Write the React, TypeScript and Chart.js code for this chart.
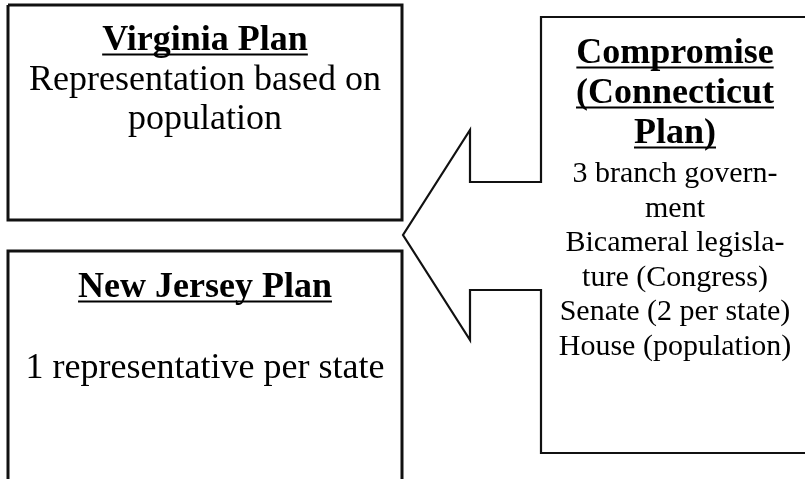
import React, { useEffect, useRef } from "react";
import { Chart, registerables } from "chart.js";

Chart.register(...registerables);

// Diagram outlines in page coordinates (x: 0..805, y: 0..479, top-down)
const virginiaBoxX = [8, 402, 402, 8, 8];
const virginiaBoxY = [5, 5, 220, 220, 5];
const jerseyBoxX = [8, 402, 402, 8, 8];
const jerseyBoxY = [490, 490, 251, 251, 490];
const calloutX = [830, 541, 541, 470, 470, 403, 470, 470, 541, 541, 830];
const calloutY = [17, 17, 182, 182, 130, 235, 340, 290, 290, 453, 453];

// Text blocks
const virginiaTitle = "Virginia Plan";
const virginiaLines = ["Representation based on", "population"];
const jerseyTitle = "New Jersey Plan";
const jerseyLines = ["1 representative per state"];
const compromiseTitle = ["Compromise", "(Connecticut", "Plan)"];
const compromiseLines = [
  "3 branch govern-",
  "ment",
  "Bicameral legisla-",
  "ture (Congress)",
  "Senate (2 per state)",
  "House (population)",
];

type TextItem = { text: string; x: number; y: number; bold: boolean; size: number };

const textItems: TextItem[] = [
  { text: virginiaTitle, x: 205, y: 50, bold: true, size: 36 },
  { text: virginiaLines[0], x: 205, y: 90, bold: false, size: 36 },
  { text: virginiaLines[1], x: 205, y: 129, bold: false, size: 36 },
  { text: jerseyTitle, x: 205, y: 297, bold: true, size: 36 },
  { text: jerseyLines[0], x: 205, y: 378, bold: false, size: 36 },
  ...compromiseTitle.map((t, i) => ({ text: t, x: 675, y: 63 + i * 40, bold: true, size: 36 })),
  ...compromiseLines.map((t, i) => ({ text: t, x: 675, y: 182 + i * 34.6, bold: false, size: 30 })),
];

const toPoints = (xs: number[], ys: number[]) => xs.map((x, i) => ({ x, y: ys[i] }));

const textPlugin = {
  id: "diagramText",
  afterDatasetsDraw(chart: any) {
    const { ctx, scales } = chart;
    const xs = scales.x;
    const ys = scales.y;
    ctx.save();
    ctx.fillStyle = "#000";
    ctx.strokeStyle = "#000";
    ctx.textAlign = "center";
    ctx.textBaseline = "alphabetic";
    for (const item of textItems) {
      ctx.font = `${item.bold ? "bold " : ""}${item.size}px "Liberation Serif", "Times New Roman", serif`;
      const px = xs.getPixelForValue(item.x);
      const py = ys.getPixelForValue(item.y);
      ctx.fillText(item.text, px, py);
      if (item.bold) {
        const w = ctx.measureText(item.text).width;
        ctx.lineWidth = 2.2;
        ctx.beginPath();
        ctx.moveTo(px - w / 2, py + 4.5);
        ctx.lineTo(px + w / 2, py + 4.5);
        ctx.stroke();
      }
    }
    ctx.restore();
  },
};

export default function App() {
  const ref = useRef<HTMLCanvasElement | null>(null);

  useEffect(() => {
    document.body.style.margin = "0";
    const canvas = ref.current;
    if (!canvas) return;
    const lineDs = (label: string, xs: number[], ys: number[], width: number) => ({
      type: "line" as const,
      label,
      data: toPoints(xs, ys),
      borderColor: "#111",
      borderWidth: width,
      pointRadius: 0,
      fill: false,
      tension: 0,
      showLine: true,
      borderJoinStyle: "miter" as const,
    });
    const chart = new Chart(canvas, {
      type: "scatter",
      data: {
        datasets: [
          lineDs("Virginia Plan", virginiaBoxX, virginiaBoxY, 3),
          lineDs("New Jersey Plan", jerseyBoxX, jerseyBoxY, 3),
          lineDs("Compromise", calloutX, calloutY, 2.2),
        ] as any,
      },
      options: {
        animation: false,
        responsive: false,
        maintainAspectRatio: false,
        layout: { padding: 0 },
        plugins: {
          legend: { display: false },
          tooltip: { enabled: false },
          title: { display: false },
        },
        scales: {
          x: { type: "linear", min: 0, max: 805, display: false },
          y: { type: "linear", min: 0, max: 479, reverse: true, display: false },
        },
      },
      plugins: [textPlugin],
    });
    return () => chart.destroy();
  }, []);

  return (
    <div style={{ position: "fixed", left: 0, top: 0, width: 805, height: 479, background: "#fff" }}>
      <canvas ref={ref} width={805} height={479} style={{ display: "block" }} />
    </div>
  );
}
